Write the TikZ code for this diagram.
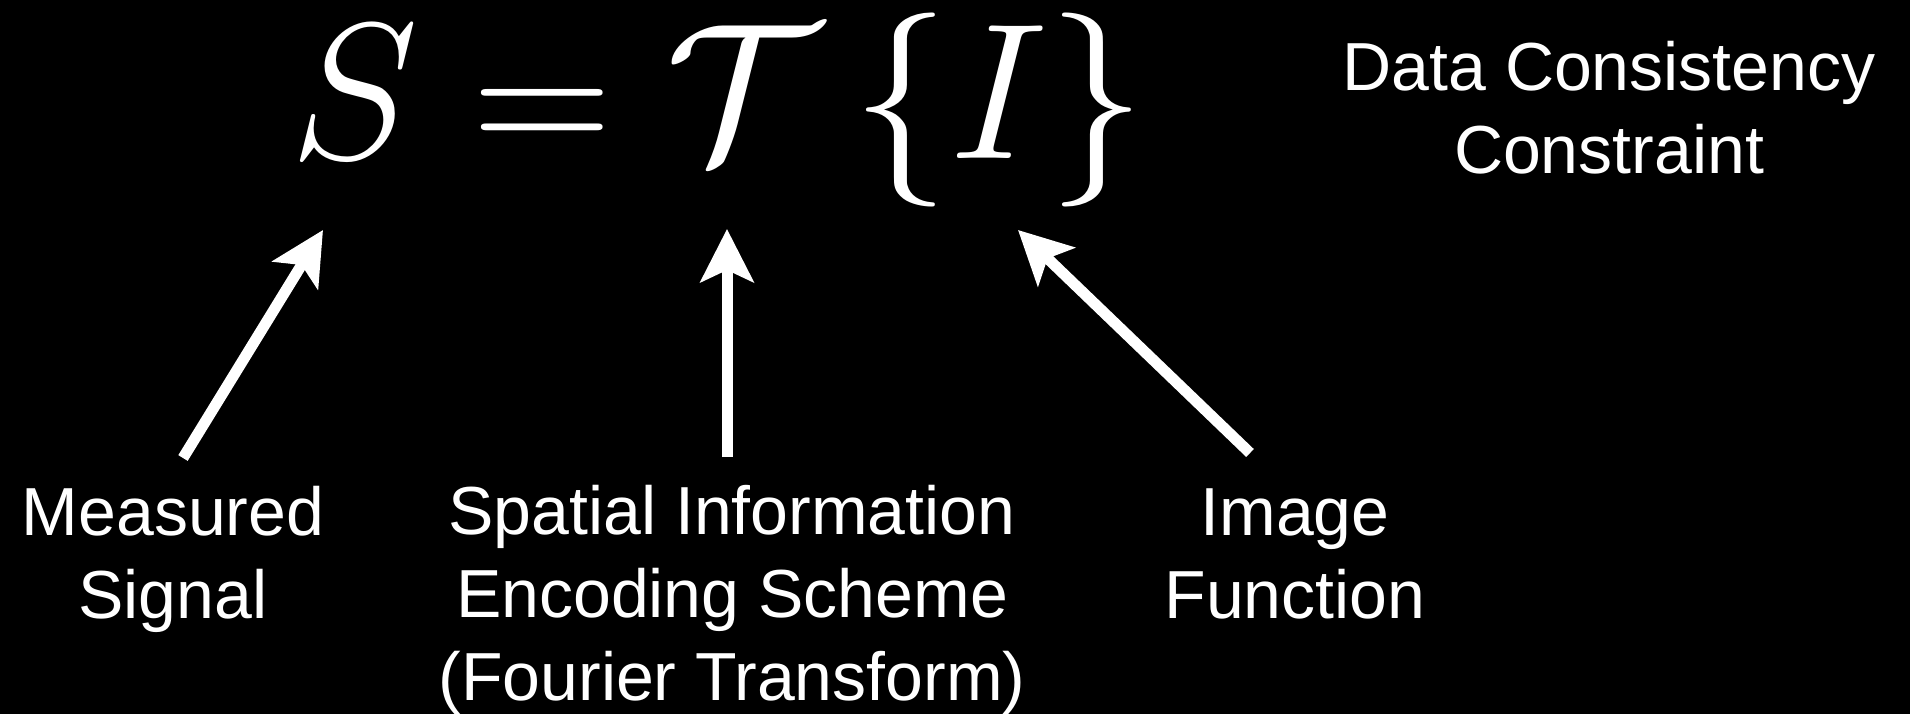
\RequirePackage{fix-cm}
\documentclass[tikz,border=0pt]{standalone}
\usepackage{fontspec}
\setmainfont{Liberation Sans}
\usetikzlibrary{arrows.meta}
\tikzset{
  lbl/.style={text=white, align=center, inner sep=0pt, anchor=base,
    font=\fontsize{68}{83}\selectfont},
  eqn/.style={text=white, inner sep=0pt, anchor=base,
    font=\fontsize{194}{230}\selectfont},
  pointer/.style={draw=white, line width=11pt,
    -{Stealth[length=53pt, width=53pt, inset=12pt]}}
}
\begin{document}
\begin{tikzpicture}[x=1pt, y=-1pt]
  \fill[black] (0,0) rectangle (1910,714);
  \useasboundingbox (0,0) rectangle (1910,714);
  \node[eqn] (eq) at (718,159) {$S = \mathcal{T}\left\{I\right\}$};
  \node[lbl] (dc) at (1609,174) {Data Consistency\\Constraint};
  \node[lbl] (ms) at (173,618) {Measured\\Signal};
  \node[lbl] (sp) at (732,700) {Spatial Information\\Encoding Scheme\\(Fourier Transform)};
  \node[lbl] (im) at (1295,618) {Image\\Function};
  \coordinate (msTail) at (183,458);
  \coordinate (msTip) at (323,230);
  \coordinate (spTail) at (727,457);
  \coordinate (spTip) at (727,229);
  \coordinate (imTail) at (1250,453);
  \coordinate (imTip) at (1018,230);
  \draw[pointer] (msTail) -- (msTip);
  \draw[pointer] (spTail) -- (spTip);
  \draw[pointer] (imTail) -- (imTip);
\end{tikzpicture}
\end{document}
